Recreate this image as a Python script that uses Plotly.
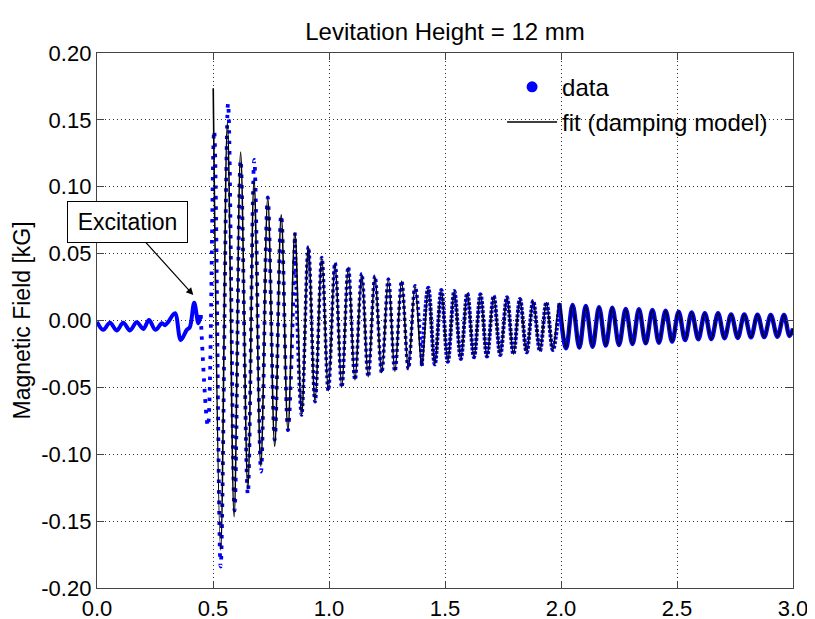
import plotly.graph_objects as go

# ---------------- data ----------------
# measured signal before / during the excitation (time [s], field [kG])
pre_t = [0.000, 0.027, 0.056, 0.085, 0.113, 0.142, 0.171, 0.200, 0.224, 0.252,
         0.280, 0.293, 0.307, 0.336, 0.361, 0.387, 0.400, 0.419, 0.437]
pre_v = [-0.001, -0.007, -0.0016, -0.0075, -0.0016, -0.0075, -0.0013, -0.0063, 0.0004, -0.007,
         -0.002, -0.0035, -0.001, 0.0054, -0.0146, -0.007, -0.005, 0.0133, -0.002]

# measured extrema of the strong first ring-down cycles
ring_t = [0.447, 0.478, 0.505, 0.533, 0.565, 0.593, 0.619, 0.650, 0.678, 0.707,
          0.736, 0.766, 0.794, 0.823]
ring_v = [0.004, -0.079, 0.142, -0.184, 0.1624, -0.142, 0.120, -0.130, 0.120, -0.113,
          0.092, -0.089, 0.079, -0.082]

# fitted damping model, peaks and troughs (time [s], field [kG])
fit_t = [0.501, 0.533, 0.562, 0.591, 0.619, 0.650, 0.677, 0.706, 0.736, 0.766,
         0.794, 0.823, 0.853, 0.882, 0.911, 0.940, 0.969, 0.997, 1.026, 1.055,
         1.083, 1.112, 1.141, 1.169, 1.198, 1.227, 1.256, 1.284, 1.313, 1.342,
         1.371, 1.400, 1.428, 1.456, 1.484, 1.512, 1.540, 1.568, 1.596, 1.625,
         1.653, 1.681, 1.710, 1.738, 1.767, 1.795, 1.823, 1.852, 1.880, 1.909,
         1.937, 1.965, 1.993, 2.022, 2.050, 2.079, 2.107, 2.136, 2.164, 2.193,
         2.221, 2.250, 2.279, 2.308, 2.336, 2.365, 2.394, 2.422, 2.451, 2.479,
         2.507, 2.535, 2.563, 2.592, 2.620, 2.648, 2.677, 2.705, 2.733, 2.762,
         2.790, 2.819, 2.847, 2.876, 2.904, 2.933, 2.961, 2.985, 3.000]
fit_v = [0.1736, -0.1716, 0.148, -0.1467, 0.126, -0.126, 0.1056, -0.109, 0.092, -0.094,
         0.079, -0.082, 0.0657, -0.0707, 0.055, -0.0607, 0.047, -0.0525, 0.043, -0.050,
         0.040, -0.0445, 0.035, -0.042, 0.033, -0.039, 0.031, -0.038, 0.0295, -0.036,
         0.026, -0.034, 0.0245, -0.0328, 0.0228, -0.0308, 0.022, -0.0288, 0.0203, -0.0275,
         0.0196, -0.027, 0.0183, -0.0258, 0.0173, -0.025, 0.016, -0.0238, 0.0146, -0.0228,
         0.0135, -0.022, 0.0129, -0.0208, 0.0116, -0.0203, 0.0108, -0.0196, 0.0099, -0.0188,
         0.0096, -0.0183, 0.0086, -0.0176, 0.0084, -0.0171, 0.0079, -0.0166, 0.0073, -0.0158,
         0.0066, -0.0146, 0.0061, -0.014, 0.0054, -0.0138, 0.0054, -0.0133, 0.0046, -0.0131,
         0.0046, -0.0126, 0.0044, -0.0124, 0.0041, -0.0121, 0.0041, -0.0116, -0.006]

# after the first cycles the measured extrema coincide with the fit
data_t = pre_t + ring_t + fit_t[12:]
data_v = pre_v + ring_v + fit_v[12:]

x_tickvals = [0.0, 0.5, 1.0, 1.5, 2.0, 2.5, 3.0]
x_ticktext = ["0.0", "0.5", "1.0", "1.5", "2.0", "2.5", "3.0"]
y_tickvals = [-0.20, -0.15, -0.10, -0.05, 0.00, 0.05, 0.10, 0.15, 0.20]
y_ticktext = ["-0.20", "-0.15", "-0.10", "-0.05", "0.00", "0.05", "0.10", "0.15", "0.20"]

title_text = "Levitation Height = 12 mm"
ylabel_text = "Magnetic Field [kG]"
note_text = "Excitation"
note_x, note_y = 0.415, 0.019
note_ax, note_ay = 0.1315, 0.0736

# ---------------- styling ----------------
FONT = "Liberation Sans, Arial, sans-serif"
BLUE = "#0000ff"
PAGE_OFFSET = 8  # default body margin of the html page
# the sampled dots look sparse on steep slopes and merge into a band later
seg_bounds = [0.0, 0.447, 0.853, 1.400, 1.993, 3.0]
seg_dash = ["solid", "3.5px,7px", "3px,3px", "3px,1.5px", "solid"]
seg_width = [4.0, 3.8, 3.6, 4.0, 4.4]

fig = go.Figure()

for i in range(len(seg_dash)):
    a, b = seg_bounds[i], seg_bounds[i + 1]
    xs = [t for t in data_t if a <= t <= b]
    ys = [v for t, v in zip(data_t, data_v) if a <= t <= b]
    fig.add_trace(go.Scatter(
        x=xs, y=ys, mode="lines",
        line=dict(color=BLUE, width=seg_width[i], dash=seg_dash[i],
                  shape="spline", smoothing=1.0),
        showlegend=False, hoverinfo="skip"))

# legend entry for the data
fig.add_trace(go.Scatter(x=[None], y=[None], mode="markers", name="data",
                         marker=dict(color=BLUE, size=11), legendgroup="a"))

fig.add_trace(go.Scatter(x=fit_t, y=fit_v, mode="lines", name="fit (damping model)",
                         line=dict(color="black", width=1.6, shape="spline", smoothing=1.0),
                         legendgroup="b"))

axis_common = dict(showline=True, mirror="ticks", linecolor="#444444", linewidth=1.3,
                   ticks="inside", ticklen=7, tickcolor="#444444", tickwidth=1.1,
                   showgrid=True, gridcolor="rgba(0,0,0,0.8)", griddash="1px,3px",
                   gridwidth=1, zeroline=False, automargin=False,
                   tickfont=dict(family=FONT, size=22, color="black"))

fig.update_xaxes(range=[0, 3.0], tickmode="array", tickvals=x_tickvals,
                 ticktext=x_ticktext, **axis_common)
fig.update_yaxes(range=[-0.2, 0.2], tickmode="array", tickvals=y_tickvals,
                 ticktext=y_ticktext, **axis_common)

# y-axis label
fig.add_annotation(x=-76 / 696, y=0.5, xref="paper", yref="paper", text=ylabel_text,
                   textangle=-90, showarrow=False, xanchor="center", yanchor="middle",
                   font=dict(family=FONT, size=23, color="black"))

fig.add_annotation(x=note_x, y=note_y, ax=note_ax, ay=note_ay, axref="x", ayref="y",
                   xref="x", yref="y", text=note_text, showarrow=True,
                   arrowhead=2, arrowsize=1.2, arrowwidth=1.2, arrowcolor="black",
                   bordercolor="black", borderwidth=1, borderpad=5, bgcolor="white",
                   width=109, height=30,
                   font=dict(family=FONT, size=23, color="black"))

fig.update_layout(
    width=815, height=619,
    margin=dict(l=97 - PAGE_OFFSET, r=22 + PAGE_OFFSET, t=53 - PAGE_OFFSET,
                b=31 + PAGE_OFFSET, autoexpand=False),
    paper_bgcolor="white", plot_bgcolor="white",
    title=dict(text=title_text, x=0.5, xref="paper",
               y=1 - (32 - PAGE_OFFSET) / 619, yref="container",
               xanchor="center", yanchor="middle",
               font=dict(family=FONT, size=24, color="black")),
    legend=dict(x=0.582, y=0.978, xanchor="left", yanchor="top",
                bgcolor="rgba(0,0,0,0)", borderwidth=0,
                font=dict(family=FONT, size=24, color="black"),
                traceorder="grouped", tracegroupgap=1, itemwidth=50),
    showlegend=True,
)

fig.write_html("out.html")
